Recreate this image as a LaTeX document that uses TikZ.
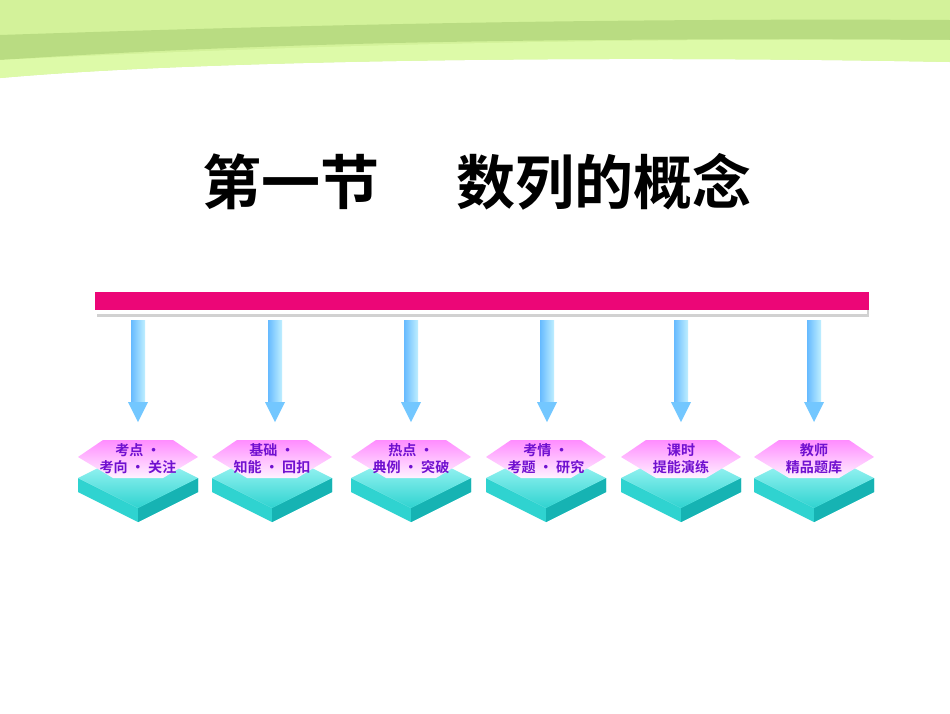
\documentclass[tikz,border=0pt]{standalone}
\usepackage{fontspec}
\newfontfamily\cjk{Noto Sans CJK SC}[BoldFont={* Bold}]
\definecolor{bannerA}{HTML}{D3F29A}
\definecolor{bannerB}{HTML}{B9DC82}
\definecolor{bannerC}{HTML}{DDFAA8}
\definecolor{slabTop}{HTML}{2FD3D0}
\definecolor{slabSide}{HTML}{16B3B3}
\definecolor{txt}{HTML}{7010D0}
\begin{document}
\begin{tikzpicture}[x=0.025cm,y=-0.025cm,
  lbl/.style={font=\cjk\bfseries\fontsize{10}{12}\selectfont,text=txt,align=center,inner sep=0pt}]
\useasboundingbox (0,0) rectangle (950,713);
\fill[white] (0,0) rectangle (950,713);
% green banner
\fill[bannerA] (0,0) -- (950,0) -- (950,62) .. controls (600,55) and (200,60) .. (0,78) -- cycle;
\fill[bannerB] (0,35) .. controls (300,25) and (600,18) .. (950,20) -- (950,40) .. controls (600,38) and (300,40) .. (0,60) -- cycle;
\fill[bannerC] (0,60) .. controls (300,45) and (600,38) .. (950,40) -- (950,62) .. controls (600,55) and (200,60) .. (0,78) -- cycle;
% title
\node[font=\cjk\bfseries\fontsize{42}{46}\selectfont] (title) at (477,182) {第一节\hspace{1.3em}数列的概念};
% bar
\fill[black!18] (97,300) rectangle (869,317);
\fill[white] (97,300) rectangle (867,314);
\fill[magenta!80!red] (95,292) rectangle (869,310);
\node[inner sep=0pt] (bar) at (482,301) {};
\foreach \i/\ax/\tx/\t in {1/138/138/{考点 ·\\考向 · 关注},2/275/272/{基础 ·\\知能 · 回扣},3/411/411/{热点 ·\\典例 · 突破},4/547/546/{考情 ·\\考题 · 研究},5/681/681/{课时\\提能演练},6/814/814/{教师\\精品题库}}{
  \shade[left color=blue!45!cyan!60, right color=blue!25!cyan!25] (\ax-7,320) rectangle (\ax+7,402);
  \fill[blue!40!cyan!55] (\ax-10,402) -- (\ax+10,402) -- (\ax,422) -- cycle;
  \coordinate (a\i) at (\ax,320);
  \fill[slabTop] (\tx-60,478) -- (\tx,508) -- (\tx+60,478) -- (\tx+60,492) -- (\tx,522) -- (\tx-60,492) -- cycle;
  \fill[slabSide] (\tx,508) -- (\tx+60,478) -- (\tx+60,492) -- (\tx,522) -- cycle;
  \shade[top color=cyan!25, bottom color=slabTop] (\tx-60,478) -- (\tx,448) -- (\tx+60,478) -- (\tx,508) -- cycle;
  \shade[top color=magenta!45, bottom color=magenta!5] (\tx-60,457) -- (\tx-35,440) -- (\tx+35,440) -- (\tx+60,457) -- (\tx+25,478) -- (\tx-25,478) -- cycle;
  \node[lbl] (t\i) at (\tx,459) {\t};
  \path (bar) -- (a\i);
}
\end{tikzpicture}
\end{document}
